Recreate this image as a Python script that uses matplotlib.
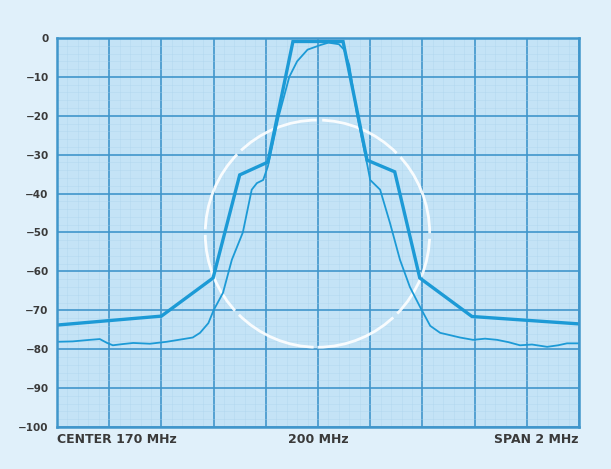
import numpy as np
import matplotlib.pyplot as plt
from matplotlib.patches import Ellipse

# trace gruesa (envolvente), x en divisiones (0..10), y en dB
thick_x = [0.0, 2.0, 2.99, 3.5, 4.04, 4.52, 5.48, 5.94, 6.47, 6.95, 7.95, 10.0]
thick_y = [-73.8, -71.5, -61.7, -35.2, -31.9, -0.9, -0.9, -31.4, -34.4, -61.7, -71.6, -73.5]

# trace fina (espectro medido)
thin_x = [0.0, 0.3, 0.63, 0.82, 0.96, 1.07, 1.25, 1.46, 1.78, 2.1, 2.42, 2.6, 2.74, 2.9, 3.0,
          3.18, 3.35, 3.56, 3.73, 3.83, 3.95, 4.04, 4.25, 4.45, 4.6, 4.8, 5.05, 5.2, 5.4,
          5.5, 5.6, 5.75, 5.95, 6.0, 6.19, 6.38, 6.57, 6.76, 6.95, 7.15, 7.34, 7.5, 7.72,
          7.97, 8.2, 8.43, 8.65, 8.87, 9.1, 9.39, 9.6, 9.77, 10.0]
thin_y = [-78.1, -78.0, -77.6, -77.4, -78.4, -79.0, -78.7, -78.4, -78.6, -78.1, -77.4, -77.0, -75.8, -73.3, -70.0,
          -65.5, -57.0, -50.0, -39.0, -37.3, -36.5, -33.0, -20.0, -10.0, -6.0, -3.0, -1.8, -1.2, -1.6,
          -3.0, -7.0, -20.0, -33.0, -36.5, -39.0, -47.6, -57.0, -64.0, -69.0, -74.0, -75.8, -76.3, -77.0,
          -77.6, -77.3, -77.6, -78.2, -79.0, -78.8, -79.4, -79.0, -78.5, -78.5]

# circulo blanco de referencia
circ_center = (4.99, -50.3)
circ_w, circ_h = 4.3, 58.4

y_ticks = list(range(0, -101, -10))
y_labels = ['0'] + ['\u2212' + str(-v) for v in y_ticks[1:]]
x_ticks = [0, 5, 10]
x_labels = ['CENTER 170 MHz', '200 MHz', 'SPAN 2 MHz']

bg = '#e0f0fa'
face = '#c4e3f6'
grid_c = '#4096cb'
trace_c = '#1c9ad6'
text_c = '#3a3a3a'

fig = plt.figure(figsize=(6.11, 4.69), dpi=100, facecolor=bg)
ax = fig.add_axes([0.0933, 0.0896, 0.8543, 0.8294])
ax.set_facecolor(face)

# rejilla menor y mayor
ax.set_xticks(np.arange(0, 10.01, 0.2), minor=True)
ax.set_yticks(np.arange(-100, 0.1, 2), minor=True)
ax.grid(which='minor', color='#a9d2ec', linewidth=0.4, alpha=0.6)
ax.set_xticks(np.arange(0, 11, 1))
ax.set_yticks(y_ticks)
ax.grid(which='major', color=grid_c, linewidth=1.2)
ax.set_axisbelow(True)

ell = Ellipse(circ_center, circ_w, circ_h, fill=False, edgecolor='white',
              linewidth=2.0, linestyle=(0, (30, 2)), alpha=0.9)
ax.add_patch(ell)

ax.plot(thin_x, thin_y, color=trace_c, linewidth=1.3)
ax.plot(thick_x, thick_y, color=trace_c, linewidth=2.4, solid_joinstyle='miter')

ax.set_xlim(0, 10)
ax.set_ylim(-100, 0)

# etiquetas
ax.set_yticklabels(y_labels, fontsize=7.5, fontweight='bold', color=text_c)
ax.set_xticklabels([''] * 11)
for xv, lab, ha in zip(x_ticks, x_labels, ['left', 'center', 'right']):
    ax.text(xv, -103.3, lab, ha=ha, va='center', fontsize=9, fontweight='bold',
            color=text_c, clip_on=False)
ax.tick_params(which='both', length=0)
ax.tick_params(axis='y', pad=6)

for s in ax.spines.values():
    s.set_color(grid_c)
    s.set_linewidth(1.8)

fig.savefig('out.png', dpi=100, facecolor=bg)
